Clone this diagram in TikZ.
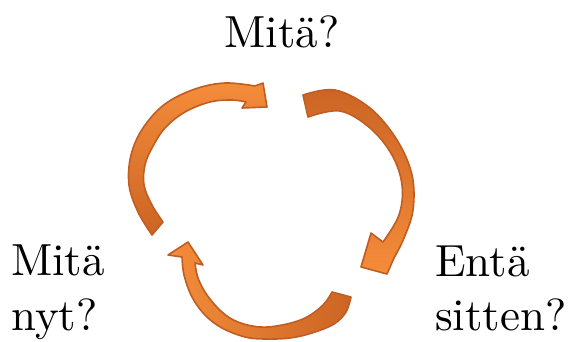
\documentclass[tikz,border=0pt]{standalone}
\definecolor{arrowdark}{RGB}{204,100,36}
\definecolor{arrowlight}{RGB}{244,140,58}
\definecolor{arrowline}{RGB}{192,94,34}
\font\lblfont="[lmroman10-regular]:mapping=tex-text" at 45pt
\tikzset{
  circarrow/.style={draw=arrowline, line width=1.6pt, line join=round},
  lbl/.style={font=\lblfont, inner sep=0pt},
}
\begin{document}
\begin{tikzpicture}[x=1pt,y=-1pt]
\useasboundingbox (0,0) rectangle (576,341);
% arrow 1 (left, going up to the right)
\path[circarrow, top color=arrowlight, bottom color=arrowdark]
  plot[smooth, tension=0.6] coordinates {(152,235) (138,212) (129,185) (131,155) (143,128) (165,104) (195,89) (225,83) (255,86)}
  -- (263,83) -- (267,107) -- (242,108) --
  plot[smooth, tension=0.6] coordinates {(246,102) (232,100) (210,102) (185,112) (165,128) (152,148) (145,165) (144,185) (152,205) (163,222)}
  -- cycle;
% arrow 2 (right, going down)
\path[circarrow, top color=arrowdark, bottom color=arrowlight]
  plot[smooth, tension=0.6] coordinates {(303,95) (335,90) (370,108) (397,140) (412,175) (413,210) (404,238) (394,258)}
  -- (387,274) -- (361,267) -- (371,233) --
  plot[smooth, tension=0.6] coordinates {(383,242) (399,215) (402,185) (392,155) (370,128) (340,111) (308,117)}
  -- cycle;
% arrow 3 (bottom, going left and up)
\path[circarrow, left color=arrowlight, right color=arrowdark]
  plot[smooth, tension=0.6] coordinates {(351,297) (346,312) (334,324) (312,333) (290,338) (265,339) (245,337) (222,328) (205,315) (192,297) (184,275) (182,257)}
  -- (168,255) -- (188,242) -- (203,265) --
  plot[smooth, tension=0.6] coordinates {(195,263) (198,278) (207,295) (222,312) (238,322) (260,327) (282,325) (305,318) (323,305) (332,292)}
  -- cycle;
% labels
\node[lbl, anchor=base] (top) at (282,47) {Mitä?};
\node[lbl, anchor=base west] (l1) at (11,275) {Mitä};
\node[lbl, anchor=base west] (l2) at (11,330) {nyt?};
\node[lbl, anchor=base west] (r1) at (435,276) {Entä};
\node[lbl, anchor=base west] (r2) at (435,330) {sitten?};
\end{tikzpicture}
\end{document}
